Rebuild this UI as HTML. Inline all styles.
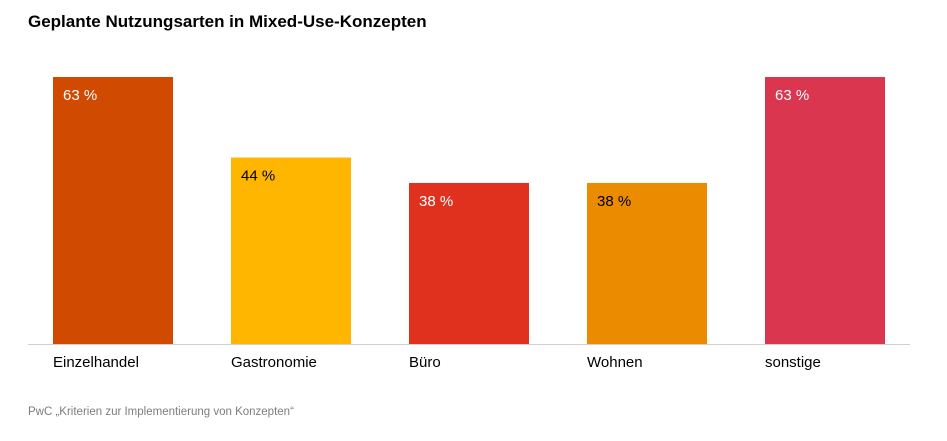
<!DOCTYPE html>
<html><head><meta charset="utf-8"><style>
body{margin:0;background:#fff;font-family:"Liberation Sans",Arial,sans-serif;}
svg{display:block}
</style></head><body>
<svg width="947" height="441" viewBox="0 0 947 441">
<text x="28" y="27" font-size="17" font-weight="bold" fill="#000">Geplante Nutzungsarten in Mixed-Use-Konzepten</text>
<g id="bars"></g>
<line x1="28" y1="344.5" x2="910" y2="344.5" stroke="#d0d0d0" stroke-width="1"/>
<text x="28" y="415" font-size="11.5" fill="#7d7d7d">PwC „Kriterien zur Implementierung von Konzepten“</text>
</svg>
<script>
const categories=["Einzelhandel","Gastronomie","Büro","Wohnen","sonstige"];
const values=[63,44,38,38,63];
const valueLabels=["63 %","44 %","38 %","38 %","63 %"];
const colors=["#d04a02","#ffb600","#e0301e","#eb8c00","#db3650"];
const textColors=["#fff","#000","#fff","#000","#fff"];
const NS="http://www.w3.org/2000/svg";
const g=document.getElementById("bars");
const baseY=344, pxPer=267/63, x0=53, step=178, bw=120;
function xPos(i){return x0+i*step;}
function yPos(v){return baseY-v*pxPer;}
categories.forEach((c,i)=>{
  const r=document.createElementNS(NS,"rect");
  
  
  r.setAttribute("x",xPos(i));r.setAttribute("y",yPos(values[i]));
  r.setAttribute("width",bw);r.setAttribute("height",baseY-yPos(values[i]));
  r.setAttribute("fill",colors[i]);g.appendChild(r);
  const t=document.createElementNS(NS,"text");
  
  
  t.setAttribute("x",xPos(i)+10);t.setAttribute("y",yPos(values[i])+23);
  t.setAttribute("font-size","15");t.setAttribute("fill",textColors[i]);
  t.textContent=valueLabels[i];g.appendChild(t);
  const l=document.createElementNS(NS,"text");
  
  
  l.setAttribute("x",xPos(i));l.setAttribute("y",367);
  l.setAttribute("font-size","15");l.setAttribute("fill","#000");
  l.textContent=c;g.appendChild(l);
});
</script>
</body></html>
